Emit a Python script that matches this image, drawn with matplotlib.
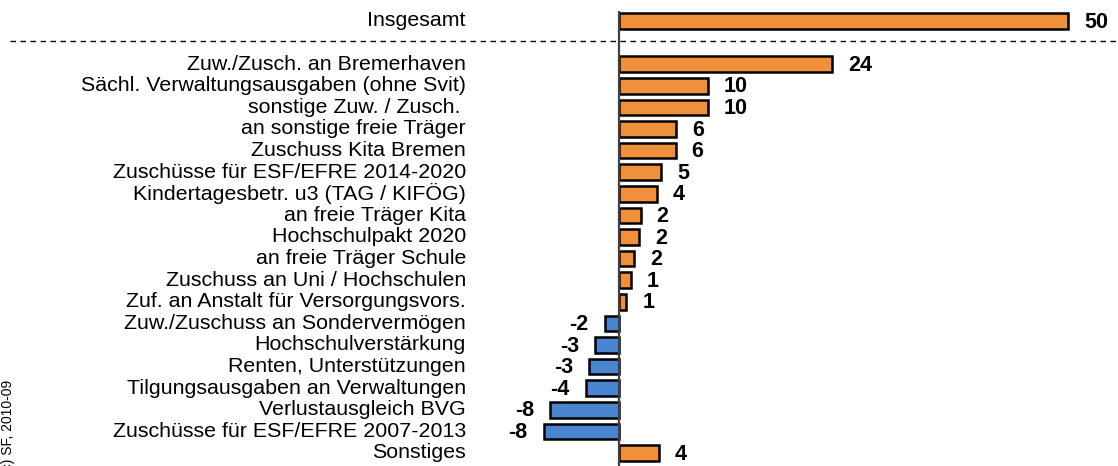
import matplotlib
matplotlib.use("Agg")
import matplotlib.pyplot as plt
from matplotlib.lines import Line2D

plt.rcParams['font.family'] = ['Liberation Sans', 'DejaVu Sans']

categories = [
    "Insgesamt",
    "Zuw./Zusch. an Bremerhaven",
    "Sächl. Verwaltungsausgaben (ohne Svit)",
    "sonstige Zuw. / Zusch. ",
    "an sonstige freie Träger",
    "Zuschuss Kita Bremen",
    "Zuschüsse für ESF/EFRE 2014-2020",
    "Kindertagesbetr. u3 (TAG / KIFÖG)",
    "an freie Träger Kita",
    "Hochschulpakt 2020",
    "an freie Träger Schule",
    "Zuschuss an Uni / Hochschulen",
    "Zuf. an Anstalt für Versorgungsvors.",
    "Zuw./Zuschuss an Sondervermögen",
    "Hochschulverstärkung",
    "Renten, Unterstützungen",
    "Tilgungsausgaben an Verwaltungen",
    "Verlustausgleich BVG",
    "Zuschüsse für ESF/EFRE 2007-2013",
    "Sonstiges",
]
values = [50, 23.7, 9.9, 9.9, 6.4, 6.3, 4.7, 4.2, 2.4, 2.2, 1.7, 1.3, 0.8,
          -1.6, -2.7, -3.3, -3.7, -7.7, -8.4, 4.4]
value_labels = ["50", "24", "10", "10", "6", "6", "5", "4", "2", "2", "2", "1", "1",
                "-2", "-3", "-3", "-4", "-8", "-8", "4"]

ORANGE = "#F0903C"
BLUE = "#4A86CF"

W, H, DPI = 1118, 466, 100
fig = plt.figure(figsize=(W / DPI, H / DPI), dpi=DPI)
ax = fig.add_axes([0, 0, 1, 1])

px_per_unit = 8.98
zero_px = 619
xmin = -zero_px / px_per_unit
xmax = (W - zero_px) / px_per_unit
row_px = 21.6
top_px = 21
ymin = -top_px / row_px
ymax = (H - top_px) / row_px
ax.set_xlim(xmin, xmax)
ax.set_ylim(ymax, ymin)
ax.axis("off")

positions = [0] + list(range(2, len(categories) + 1))
colors = [ORANGE if v >= 0 else BLUE for v in values]

ax.barh(positions, values, height=0.72, color=colors, edgecolor="black",
        linewidth=1.8, zorder=3)

label_x = (466 - zero_px) / px_per_unit
gap = 16 / px_per_unit
for p, cat, v, lab in zip(positions, categories, values, value_labels):
    ax.text(label_x, p, cat, ha="right", va="center", fontsize=15.4, color="black")
    if v >= 0:
        ax.text(v + gap, p + 0.05, lab, ha="left", va="center", fontsize=15.5,
                fontweight="bold", color="black")
    else:
        ax.text(v - gap, p + 0.05, lab, ha="right", va="center", fontsize=15.5,
                fontweight="bold", color="black")

# zero axis line
ax.plot([0, 0], [-0.46, ymax], color="#404040", linewidth=1.6, zorder=4,
        solid_capstyle="butt")

# dashed separator
y_dash = 1 - 40.5 / H
fig.add_artist(Line2D([10 / W, 1.0], [y_dash, y_dash], transform=fig.transFigure,
                      color="black", linewidth=1.0, linestyle=(0, (4, 3.2))))

fig.text(8 / W, -0.02, "(c) SF, 2010-09", rotation=90, ha="center", va="bottom",
         fontsize=10, color="black")

fig.savefig("out.png", dpi=DPI)
